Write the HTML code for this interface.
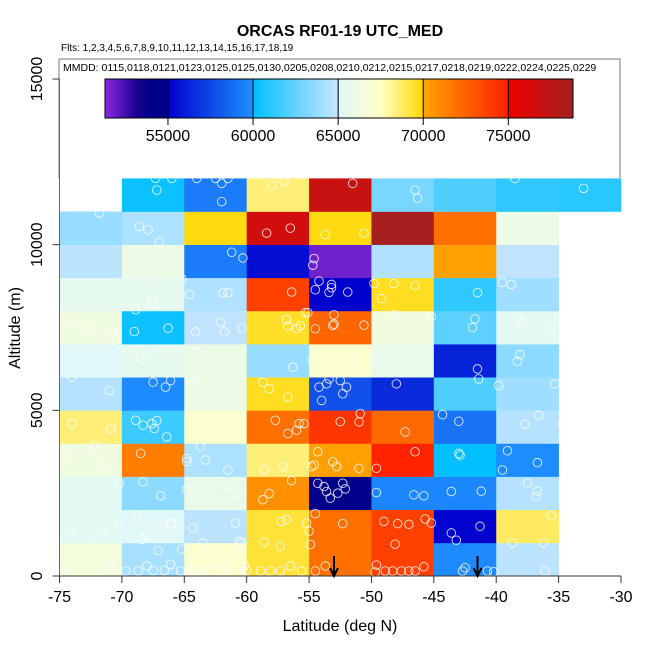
<!DOCTYPE html>
<html><head><meta charset="utf-8"><style>
body{margin:0;background:#fff}
svg{display:block;font-family:"Liberation Sans",sans-serif}
</style></head><body>
<svg id="chart" width="650" height="650" xmlns="http://www.w3.org/2000/svg">
<text x="340" y="36" text-anchor="middle" font-size="16" font-weight="bold">ORCAS RF01-19 UTC_MED</text>
<text x="61" y="51" font-size="10">Flts: 1,2,3,4,5,6,7,8,9,10,11,12,13,14,15,16,17,18,19</text>
<g id="cells"></g>
<g id="pts"></g>
<rect x="59" y="59" width="561" height="480" fill="none" stroke="#777" stroke-width="1" clip-path="url(#lbclip)"/>
<clipPath id="lbclip"><rect x="55" y="55" width="570" height="123"/></clipPath>
<text x="63" y="71" font-size="10.5">MMDD: 0115,0118,0121,0123,0125,0125,0130,0205,0208,0210,0212,0215,0217,0218,0219,0222,0224,0225,0229</text>
<g id="cbar"></g>
<g id="axes"></g>
<text x="340" y="631" text-anchor="middle" font-size="16">Latitude (deg N)</text>
<text transform="translate(20,328) rotate(-90)" text-anchor="middle" font-size="16">Altitude (m)</text>
</svg>
<script>
const latEdges=[-75,-70,-65,-60,-55,-50,-45,-40,-35,-30];
const altEdges=[0,1000,2000,3000,4000,5000,6000,7000,8000,9000,10000,11000,12000];
// values[row][col], row 0 = 0-1000 m; null = no data
const row0=[66500,64200,67200,69300,72000,73800,59800,64700,null];
const row1=[65200,65000,64700,69300,72000,73800,55100,68800,null];
const row2=[65200,63500,65700,70800,54500,59700,59700,64500,null];
const row3=[66300,71500,64300,68500,70200,74900,60050,59900,null];
const row4=[68500,61500,67200,72000,74200,72200,59000,64500,null];
const row5=[64500,59800,66000,69600,57800,56500,62000,64000,null];
const row6=[65000,65500,66000,63800,67200,65700,56200,63500,null];
const row7=[66300,60300,64800,69500,72400,66400,62300,65200,null];
const row8=[65500,65500,64400,73800,55000,69600,61200,64000,null];
const row9=[64700,66000,59300,55500,51800,64400,70200,64800,null];
const row10=[63800,64300,69800,76500,69800,78700,72000,66000,null];
const row11=[null,60300,59300,68500,77000,63000,62000,61200,61000];
const values=[row0,row1,row2,row3,row4,row5,row6,row7,row8,row9,row10,row11];
const xTicks=[-75,-70,-65,-60,-55,-50,-45,-40,-35,-30];
const yTicks=[0,5000,10000,15000];
const cbTicks=[55000,60000,65000,70000,75000];
const cbRange=[51300,78800];
const arrowLats=[-53,-41.5];
const ptLat=[-67.3,-66,-67.2,-64,-62.5,-62,-61.5,-62,-58,-57,-51.5,-46.5,-46.3,-38.5,-33,-71.8,-68.6,-67.9,-56.5,-58.4,-53.7,-50.6,-67,-61.2,-60.3,-54.6,-54.7,-69,-67.7,-65.2,-56.4,-54.2,-53.2,-53.2,-53.4,-54.5,-51.9,-49.8,-48.2,-46.5,-49.2,-41.5,-39.5,-38.8,-67.6,-67.5,-68.9,-64.6,-61.9,-61.5,-55.3,-55.1,-53,-74,-72.8,-66.3,-62.1,-60.4,-56.8,-55.7,-56.7,-53,-53.1,-54.5,-56,-50.6,-48.2,-45.2,-41.7,-41.9,-38.2,-38,-35.5,-35.7,-70.8,-69,-64.1,-61.8,-70.2,-68.5,-68.5,-66.5,-64,-56.3,-54.8,-51.4,-49.5,-41.5,-38.1,-38.3,-74,-64,-66.1,-66.5,-67.5,-71,-58.7,-58.2,-56.7,-53.4,-53.6,-52.5,-52,-54.2,-52.3,-54,-48,-39.8,-35.3,-41.4,-74,-70.9,-68.9,-67.2,-67.4,-67.6,-68.3,-66.4,-57.7,-56,-56.7,-55.8,-55.4,-52.5,-51,-47.3,-50.9,-44.3,-43,-37.7,-34.7,-36.6,-72.2,-74.4,-68.5,-71.5,-64.8,-64.8,-63.3,-61.5,-57.1,-58.6,-63.7,-54.3,-54.8,-54.6,-52.8,-53.1,-51,-49.6,-46.5,-43,-42.9,-39.1,-36.7,-39.5,-70.2,-68.3,-66.9,-64.8,-61.6,-56.4,-54.3,-52.3,-53.8,-52.1,-53.3,-53.6,-52.7,-49.6,-46.6,-45.8,-43.6,-41.2,-37.5,-36.7,-36.8,-58.2,-58.7,-60.9,-68.8,-67,-66,-64.3,-60.9,-56.8,-57.2,-54.5,-55,-52.3,-49,-47,-45.7,-47.9,-45.2,-43.6,-41.3,-35.6,-74.2,-72.6,-71.6,-68,-66.1,-70.2,-60.6,-58.6,-68.4,-67.1,-65.2,-63.5,-60.4,-57.3,-54.9,-55.2,-48.1,-43.2,-36.2,-38.7,-74.8,-71,-70.8,-69.7,-68.7,-68,-67.5,-66.6,-66.1,-65.3,-64.6,-64.2,-63.7,-63,-62,-61.8,-60.2,-60,-58.9,-58.1,-57.3,-56.5,-55.6,-54.5,-53.7,-49.6,-49.7,-48.9,-48.3,-47.6,-47,-46.5,-45.8,-42.5,-42.7,-40.7,-40.2,-36.1];
const ptAlt=[12000,12000,11650,12000,12000,11850,12000,11300,11800,11900,11850,11650,11400,12000,11700,10960,10550,10450,10500,10350,10300,10350,10080,9770,9600,9580,9380,9000,8960,8970,8570,8900,8800,8700,8560,8640,8570,8830,8830,8760,8370,8550,8860,8800,8380,8210,8040,8490,8550,8550,7950,7950,7880,7650,7450,7480,7650,7480,7740,7550,7540,7600,7560,7460,7470,7570,7880,7820,7760,7500,7760,7670,7750,7400,7310,7380,7370,7370,6800,6800,6550,6810,6750,6300,6550,6520,6510,6250,6680,6480,6000,6000,5900,5700,5850,5600,5850,5650,5400,5950,5800,5900,5700,5700,5500,5300,5800,5750,5800,5950,4600,4440,4700,4690,4450,4600,4550,4200,4700,4400,4300,4600,4600,4660,4650,4350,4900,4870,4670,4580,4600,4850,3940,3650,3700,3300,3550,3450,3500,3200,3300,3200,3900,3750,3300,3350,3300,3450,3250,3250,3750,3700,3650,3780,3420,3200,2800,2840,2420,2620,2700,2880,2800,2800,2700,2630,2350,2550,2500,2520,2450,2420,2550,2560,2800,2560,2400,2490,2300,2490,1800,1450,1600,1450,1600,1700,1650,1880,1350,1580,1650,1560,1720,1580,1600,1300,1500,1820,1350,1200,1350,1200,1570,1600,1050,1020,1100,770,810,1000,1000,900,950,1600,960,1080,1000,1000,150,350,300,150,150,300,170,170,350,150,150,150,150,150,150,300,300,150,150,150,150,300,150,150,300,330,120,150,150,150,150,150,280,250,150,150,130,150];

const NS='http://www.w3.org/2000/svg';
const X0=59.5,X1=621,Y0=576,YT=79;
const xs=v=>X0+(v+75)/45*(X1-X0);
const ys=v=>Y0-v/15000*(Y0-YT);
const CB={x0:105,x1:573,y0:79,y1:118};
const cbx=v=>CB.x0+(v-cbRange[0])/(cbRange[1]-cbRange[0])*(CB.x1-CB.x0);
const stops=[[51300,'#8a2be2'],[53200,'#1a0090'],[54000,'#00008b'],[55000,'#00008b'],[55000,'#0000cd'],[60000,'#1e90ff'],[60000,'#00bfff'],[65000,'#c8e6ff'],[65000,'#e0f8f8'],[67500,'#ffffc8'],[70000,'#ffd700'],[70000,'#ffa500'],[75000,'#ff2000'],[75000,'#ee0000'],[78800,'#a52020']];
function hx(c){return [1,3,5].map(i=>parseInt(c.substr(i,2),16));}
function cmap(v){
  if(v<=stops[0][0])return stops[0][1];
  for(let i=0;i<stops.length-1;i++){
    const a=stops[i],b=stops[i+1];
    if(b[0]>a[0]&&v>=a[0]&&v<b[0]){
      const t=(v-a[0])/(b[0]-a[0]);const ca=hx(a[1]),cb=hx(b[1]);
      return 'rgb('+ca.map((c,k)=>Math.round(c+(cb[k]-c)*t)).join(',')+')';
    }
  }
  return stops[stops.length-1][1];
}
function mk(tag,attrs,parent){const e=document.createElementNS(NS,tag);for(const k in attrs)e.setAttribute(k,attrs[k]);parent.appendChild(e);return e;}

const cells=document.getElementById('cells');
values.forEach((row,r)=>row.forEach((v,c)=>{
  if(v===null)return;
  const x=xs(latEdges[c]),x2=xs(latEdges[c+1]),y=ys(altEdges[r+1]),y2=ys(altEdges[r]);
  const e=mk('rect',{x:x,y:y,width:x2-x+0.3,height:y2-y+0.3,fill:cmap(v)},cells);
  
  
}));
const pts=document.getElementById('pts');
ptLat.forEach((la,i)=>{
  const e=mk('circle',{cx:xs(la),cy:ys(ptAlt[i]),r:4.3,fill:'none',stroke:'#fff','stroke-width':0.9,opacity:0.85},pts);
  
  
});
const cb=document.getElementById('cbar');
const N=240;
for(let i=0;i<N;i++){
  const v=cbRange[0]+(i+0.5)/N*(cbRange[1]-cbRange[0]);
  const w=(CB.x1-CB.x0)/N;
  mk('rect',{x:CB.x0+i*w,y:CB.y0,width:w+0.4,height:CB.y1-CB.y0,fill:cmap(v)},cb);
}
mk('rect',{x:CB.x0,y:CB.y0,width:CB.x1-CB.x0,height:CB.y1-CB.y0,fill:'none',stroke:'#000','stroke-width':1},cb);
cbTicks.forEach(t=>{
  const x=cbx(t);
  mk('line',{x1:x,x2:x,y1:CB.y0,y2:CB.y1+7,stroke:'#000','stroke-width':1},cb);
  const e=mk('text',{x:x,y:141,'text-anchor':'middle','font-size':16},cb);
  e.textContent=t;
  
  
});
const ax=document.getElementById('axes');
mk('line',{x1:X0,x2:X1,y1:Y0,y2:Y0,stroke:'#333','stroke-width':1},ax);
mk('line',{x1:X0,x2:X0,y1:YT,y2:Y0,stroke:'#666','stroke-width':1},ax);
xTicks.forEach(t=>{
  const x=xs(t);
  mk('line',{x1:x,x2:x,y1:Y0,y2:Y0+7,stroke:'#333','stroke-width':1},ax);
  const e=mk('text',{x:x,y:602,'text-anchor':'middle','font-size':16},ax);
  e.textContent=t;
  
  
});
yTicks.forEach(t=>{
  const y=ys(t);
  mk('line',{x1:X0-7,x2:X0,y1:y,y2:y,stroke:'#333','stroke-width':1},ax);
  const e=mk('text',{transform:'translate(42,'+y+') rotate(-90)','text-anchor':'middle','font-size':16},ax);
  e.textContent=t;
  
  
});
arrowLats.forEach(la=>{
  const x=xs(la);
  const g=mk('g',{},ax);
  
  
  mk('line',{x1:x,x2:x,y1:556,y2:575,stroke:'#000','stroke-width':2},g);
  mk('polyline',{points:(x-4)+',568 '+x+',576 '+(x+4)+',568',fill:'none',stroke:'#000','stroke-width':2},g);
});
</script>
</body></html>
